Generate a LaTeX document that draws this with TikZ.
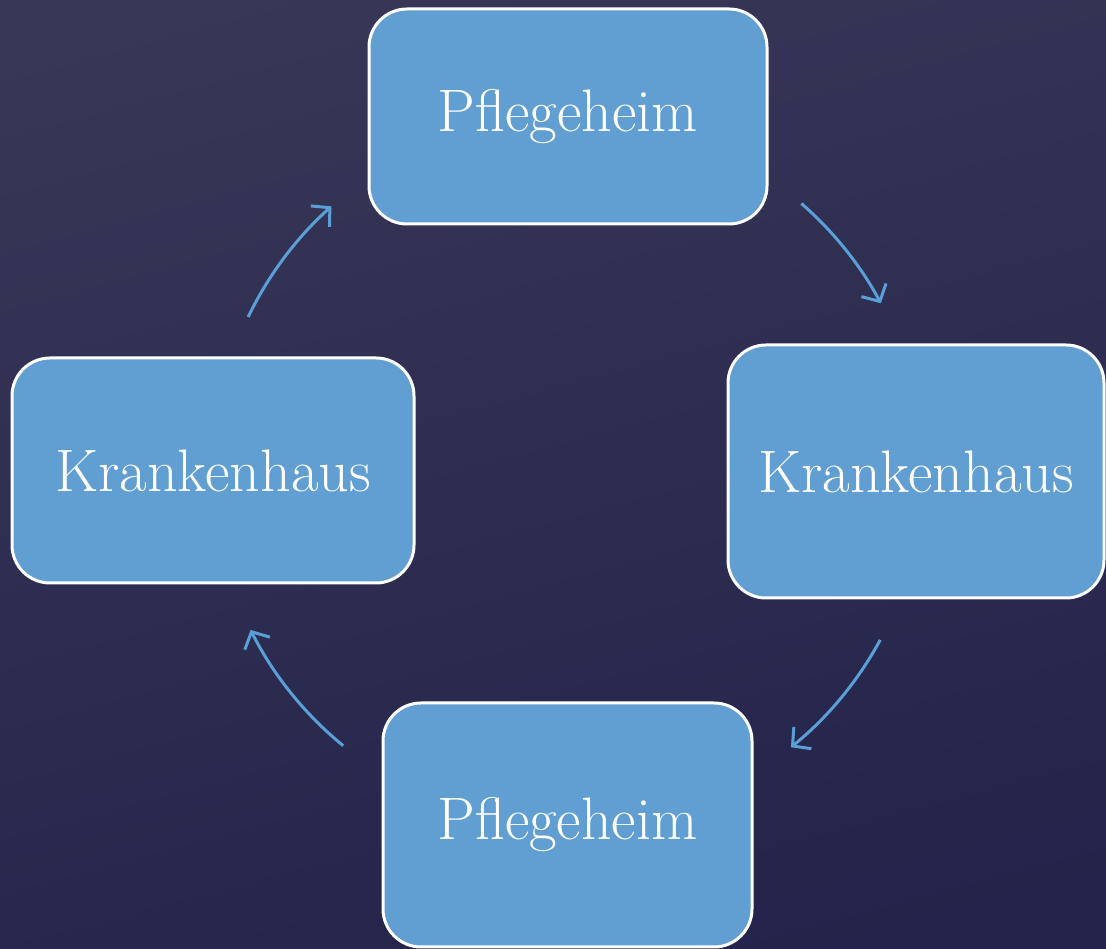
\documentclass[tikz,border=0pt]{standalone}
\usepackage{tikz}
\usetikzlibrary{arrows.meta}
\definecolor{bgtop}{HTML}{383757}
\definecolor{bgbot}{HTML}{23234B}
\definecolor{boxfill}{HTML}{619ED2}
\definecolor{arrcol}{HTML}{5A9FD8}
\tikzset{
  cyclebox/.style={draw=white, line width=3pt, fill=boxfill, rounded corners=38pt,
    text=white, font=\fontsize{60}{66}\selectfont, inner sep=0pt},
  cyclearrow/.style={draw=arrcol, line width=3pt,
    -{Straight Barb[length=13pt,width=28pt,line width=3pt]}}
}
\begin{document}
\begin{tikzpicture}[x=1pt,y=1pt]
\useasboundingbox (0,0) rectangle (1106,949);
\shade[top color=bgtop, bottom color=bgbot, shading angle=15] (-60,-60) rectangle (1166,1009);
\node[cyclebox, minimum width=398pt, minimum height=215pt] (ph1) at (568,832.5) {Pflegeheim};
\node[cyclebox, minimum width=376pt, minimum height=253pt] (kh2) at (916,477.5) {Krankenhaus};
\node[cyclebox, minimum width=369pt, minimum height=244pt] (ph2) at (567.5,124) {Pflegeheim};
\node[cyclebox, minimum width=402pt, minimum height=225pt] (kh1) at (213,478.5) {Krankenhaus};
\coordinate (c) at (568,478);
\path (c) ++(154.3:355pt) coordinate (a1s);
\path (c) ++(131.8:355pt) coordinate (a1e);
\path (c) ++(48.9:355pt) coordinate (a2s);
\path (c) ++(28.2:355pt) coordinate (a2e);
\path (c) ++(-28.4:355pt) coordinate (a3s);
\path (c) ++(-51.1:355pt) coordinate (a3e);
\path (c) ++(230.7:355pt) coordinate (a4s);
\path (c) ++(206.6:355pt) coordinate (a4e);
\draw[cyclearrow] (a1s) arc[start angle=154.3, end angle=131.8, radius=355pt];
\draw[cyclearrow] (a2s) arc[start angle=48.9, end angle=28.2, radius=355pt];
\draw[cyclearrow] (a3s) arc[start angle=-28.4, end angle=-51.1, radius=355pt];
\draw[cyclearrow] (a4s) arc[start angle=230.7, end angle=206.6, radius=355pt];
\end{tikzpicture}
\end{document}
